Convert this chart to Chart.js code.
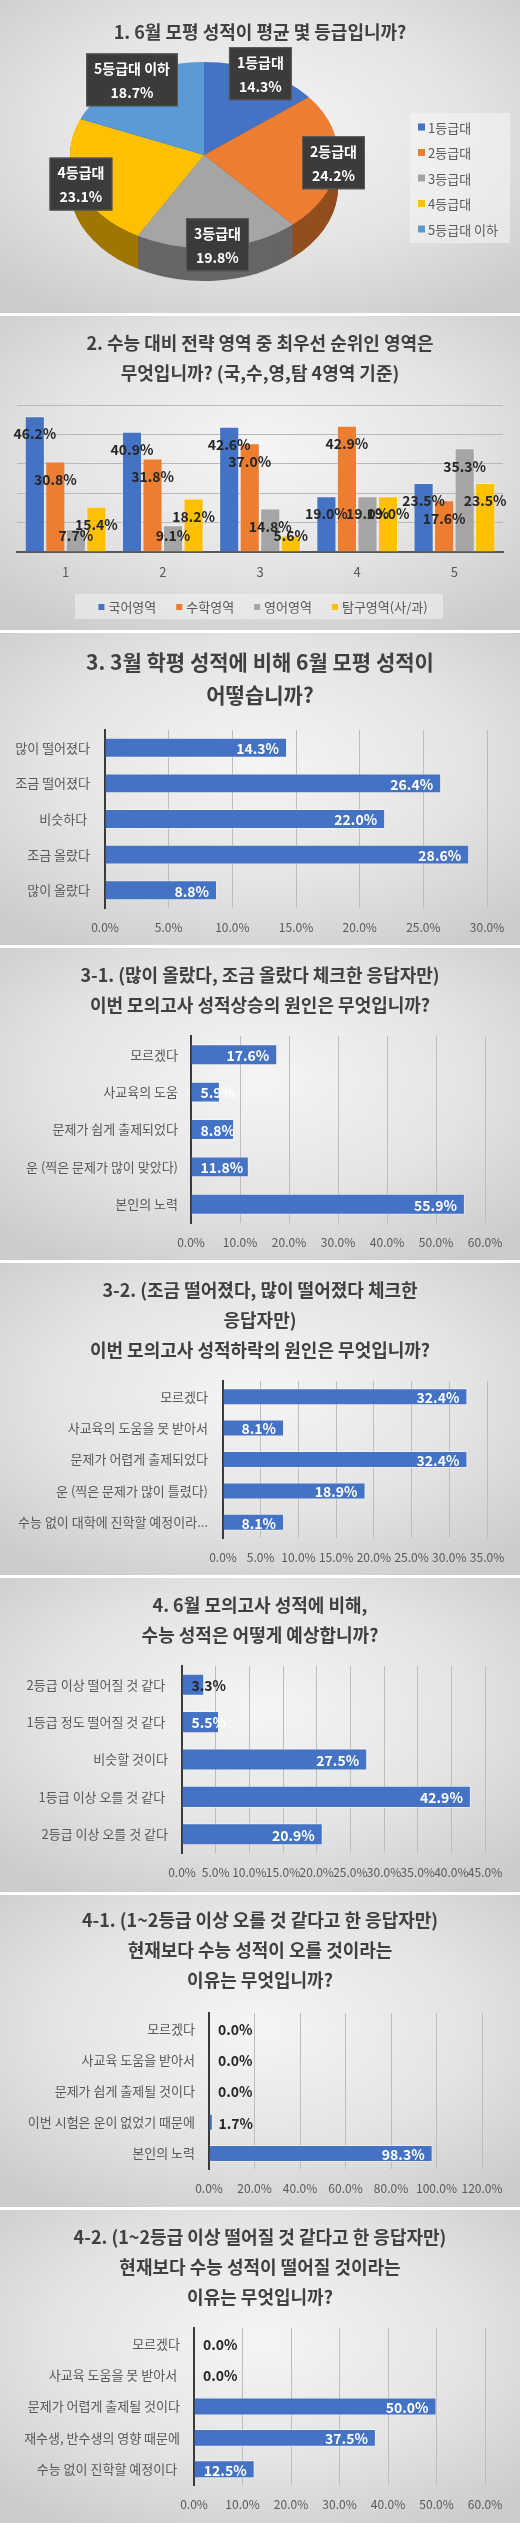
<!DOCTYPE html>
<html><head><meta charset="utf-8">
<script src="https://cdn.jsdelivr.net/npm/chart.js@4.4.1/dist/chart.umd.min.js"></script>
<style>
html,body{margin:0;padding:0;background:#ffffff;}
body{width:520px;height:2523px;position:relative;overflow:hidden;}
.panel{position:absolute;left:0;width:520px;background:radial-gradient(ellipse 72% 70% at 50% 42%, #f5f5f5 0%, #e4e4e4 55%, #cbcbcb 100%);}
.panel canvas{display:block;position:absolute;left:0;top:0;}
</style></head><body>
<script>
// ---------- DATA ----------
const gradeLabels = ['1등급대','2등급대','3등급대','4등급대','5등급대 이하'];
const gradeValues = [14.3, 24.2, 19.8, 23.1, 18.7];

const areaCategories = ['1','2','3','4','5'];
const areaSeriesNames = ['국어영역','수학영역','영어영역','탐구영역(사/과)'];
const koreanValues  = [46.2, 40.9, 42.6, 19.0, 23.5];
const mathValues    = [30.8, 31.8, 37.0, 42.9, 17.6];
const englishValues = [7.7, 9.1, 14.8, 19.0, 35.3];
const inquiryValues = [15.4, 18.2, 5.6, 19.0, 23.5];

const changeLabels = ['많이 떨어졌다','조금 떨어졌다','비슷하다 ','조금 올랐다','많이 올랐다'];
const changeValues = [14.3, 26.4, 22.0, 28.6, 8.8];

const riseCauseLabels = ['모르겠다','사교육의 도움','문제가 쉽게 출제되었다','운 (찍은 문제가 많이 맞았다)','본인의 노력'];
const riseCauseValues = [17.6, 5.9, 8.8, 11.8, 55.9];

const dropCauseLabels = ['모르겠다','사교육의 도움을 못 받아서','문제가 어렵게 출제되었다','운 (찍은 문제가 많이 틀렸다)','수능 없이 대학에 진학할 예정이라...'];
const dropCauseValues = [32.4, 8.1, 32.4, 18.9, 8.1];

const forecastLabels = ['2등급 이상 떨어질 것 같다 ','1등급 정도 떨어질 것 같다 ','비슷할 것이다','1등급 이상 오를 것 같다 ','2등급 이상 오를 것 같다'];
const forecastValues = [3.3, 5.5, 27.5, 42.9, 20.9];

const upReasonLabels = ['모르겠다','사교육 도움을 받아서','문제가 쉽게 출제될 것이다','이번 시험은 운이 없었기 때문에','본인의 노력'];
const upReasonValues = [0.0, 0.0, 0.0, 1.7, 98.3];

const downReasonLabels = ['모르겠다','사교육 도움을 못 받아서 ','문제가 어렵게 출제될 것이다','재수생, 반수생의 영향 때문에','수능 없이 진학할 예정이다 '];
const downReasonValues = [0.0, 0.0, 50.0, 37.5, 12.5];

// axis ranges (max, step) for the percent axes
const axisMaxes = [50, 30, 60, 35, 45, 120, 60];
const axisSteps = [10, 5, 10, 5, 5, 20, 10];

const title1 = ['1. 6월 모평 성적이 평균 몇 등급입니까?'];
const title2 = ['2. 수능 대비 전략 영역 중 최우선 순위인 영역은','무엇입니까? (국,수,영,탐 4영역 기준)'];
const title3 = ['3. 3월 학평 성적에 비해 6월 모평 성적이','어떻습니까?'];
const title4 = ['3-1. (많이 올랐다, 조금 올랐다 체크한 응답자만)','이번 모의고사 성적상승의 원인은 무엇입니까?'];
const title5 = ['3-2. (조금 떨어졌다, 많이 떨어졌다 체크한','응답자만)','이번 모의고사 성적하락의 원인은 무엇입니까?'];
const title6 = ['4. 6월 모의고사 성적에 비해,','수능 성적은 어떻게 예상합니까?'];
const title7 = ['4-1. (1~2등급 이상 오를 것 같다고 한 응답자만)','현재보다 수능 성적이 오를 것이라는','이유는 무엇입니까?'];
const title8 = ['4-2. (1~2등급 이상 떨어질 것 같다고 한 응답자만)','현재보다 수능 성적이 떨어질 것이라는','이유는 무엇입니까?'];

// ---------- STYLE ----------
const FONT = "'Noto Sans CJK KR', 'Noto Sans', sans-serif";
const PIE_COLORS = ['#4472C4','#ED7D31','#A5A5A5','#FFC000','#5B9BD5'];
const SERIES_COLORS = ['#4472C4','#ED7D31','#A5A5A5','#FFC000'];
const BAR_BLUE = '#4472C4';
const TITLE_COLOR = '#404040';
const TEXT_GRAY = '#595959';

Chart.defaults.font.family = FONT;
Chart.defaults.color = TEXT_GRAY;
Chart.defaults.animation = false;

function darken(hex, f) {
  const n = parseInt(hex.slice(1), 16);
  const r = Math.round(((n >> 16) & 255) * f), g = Math.round(((n >> 8) & 255) * f), b = Math.round((n & 255) * f);
  return 'rgb(' + r + ',' + g + ',' + b + ')';
}

function makePanel(top, h) {
  const d = document.createElement('div');
  d.className = 'panel';
  d.style.top = top + 'px';
  d.style.height = h + 'px';
  const c = document.createElement('canvas');
  c.width = 520; c.height = h;
  c.style.width = '520px'; c.style.height = h + 'px';
  d.appendChild(c);
  document.body.appendChild(d);
  return c;
}

function titleOpts(lines, size, lh, firstCenter, chartTop) {
  const lhPx = size * lh;
  const pt = firstCenter - lhPx / 2;
  const pb = chartTop - pt - lines.length * lhPx;
  return {
    display: true, text: lines, color: TITLE_COLOR,
    font: {size: size, weight: 'bold', family: FONT, lineHeight: lh},
    padding: {top: pt, bottom: Math.max(0, pb)}
  };
}

// ---------- PANEL 1 : 3D-looking pie ----------
(function () {
  const H = 313;
  const canvas = makePanel(0, H);
  const G = {cx: 204, cy: 155, rx: 134, ry: 93, depth: 33};
  const sideColors = PIE_COLORS.map(c => darken(c, 0.62));

  function applyTransform(ctx, el, dy) {
    ctx.translate(G.cx, G.cy + dy);
    ctx.scale(G.rx / el.outerRadius, G.ry / el.outerRadius);
    ctx.translate(-el.x, -el.y);
  }

  const pie3d = {
    id: 'pie3d',
    beforeDatasetsDraw(chart) {
      const ctx = chart.ctx;
      const meta = chart.getDatasetMeta(0);
      const e0 = meta.data[0];
      for (let d = G.depth; d >= 1; d--) {
        ctx.save();
        applyTransform(ctx, e0, d);
        meta.data.forEach((el, i) => {
          ctx.beginPath();
          ctx.moveTo(el.x, el.y);
          ctx.arc(el.x, el.y, el.outerRadius, el.startAngle, el.endAngle);
          ctx.closePath();
          ctx.fillStyle = sideColors[i];
          ctx.fill();
        });
        ctx.restore();
      }
      ctx.save();
      applyTransform(ctx, e0, 0);
    },
    afterDatasetsDraw(chart) {
      chart.ctx.restore();
    },
    afterDraw(chart) {
      const ctx = chart.ctx;
      const meta = chart.getDatasetMeta(0);
      const vals = chart.data.datasets[0].data;
      ctx.save();
      ctx.font = 'bold 14px ' + FONT;
      ctx.textAlign = 'center';
      ctx.textBaseline = 'middle';
      meta.data.forEach((el, i) => {
        const mid = (el.startAngle + el.endAngle) / 2;
        const px = G.cx + G.rx * 0.97 * Math.cos(mid);
        const py = G.cy + G.ry * 0.97 * Math.sin(mid);
        const l1 = chart.data.labels[i];
        const l2 = vals[i].toFixed(1) + '%';
        const w = Math.max(ctx.measureText(l1).width, ctx.measureText(l2).width) + 16;
        const h = 53;
        ctx.fillStyle = '#3b3b3b';
        ctx.fillRect(px - w / 2, py - h / 2, w, h);
        ctx.strokeStyle = '#5a5a5a';
        ctx.lineWidth = 1;
        ctx.strokeRect(px - w / 2 + 0.5, py - h / 2 + 0.5, w - 1, h - 1);
        ctx.fillStyle = '#ffffff';
        ctx.fillText(l1, px, py - 11);
        ctx.fillText(l2, px, py + 13);
      });
      // legend
      ctx.fillStyle = 'rgba(245,245,245,0.55)';
      ctx.fillRect(410, 113, 100, 130);
      ctx.font = '13px ' + FONT;
      ctx.textAlign = 'left';
      chart.data.labels.forEach((lab, i) => {
        const y = 127 + i * 25.5;
        ctx.fillStyle = PIE_COLORS[i];
        ctx.fillRect(418, y - 3.5, 7, 7);
        ctx.fillStyle = TEXT_GRAY;
        ctx.fillText(lab, 428, y + 1);
      });
      ctx.restore();
    }
  };

  new Chart(canvas, {
    type: 'pie',
    data: {labels: gradeLabels, datasets: [{data: gradeValues, backgroundColor: PIE_COLORS, borderWidth: 0}]},
    options: {
      responsive: false, devicePixelRatio: 1, animation: false,
      layout: {padding: 0},
      plugins: {
        legend: {display: false}, tooltip: {enabled: false},
        title: titleOpts(title1, 18, 1.667, 32, 60)
      }
    },
    plugins: [pie3d]
  });
})();

// ---------- PANEL 2 : grouped columns ----------
(function () {
  const H = 314, L = 17, R = 503, T = 89, B = 236;
  const canvas = makePanel(316, H);
  const seriesValues = [koreanValues, mathValues, englishValues, inquiryValues];

  const colLabels = {
    id: 'colLabels',
    afterDatasetsDraw(chart) {
      const ctx = chart.ctx;
      ctx.save();
      ctx.font = 'bold 14px ' + FONT;
      ctx.textAlign = 'center';
      ctx.textBaseline = 'middle';
      ctx.fillStyle = '#262626';
      chart.data.datasets.forEach((ds, di) => {
        chart.getDatasetMeta(di).data.forEach((el, i) => {
          const h = el.base - el.y;
          const off = Math.min(18, Math.max(0, h - 16));
          ctx.fillText(ds.data[i].toFixed(1) + '%', el.x, el.y + off);
        });
      });
      ctx.restore();
    },
    afterDraw(chart) {
      const ctx = chart.ctx;
      ctx.save();
      ctx.fillStyle = 'rgba(245,245,245,0.5)';
      ctx.fillRect(75, 278, 368, 25);
      ctx.font = '13px ' + FONT;
      ctx.textBaseline = 'middle';
      ctx.textAlign = 'left';
      const names = chart.data.datasets.map(d => d.label);
      const widths = names.map(n => ctx.measureText(n).width);
      let total = 0;
      widths.forEach((w, i) => { total += 10 + w + (i < widths.length - 1 ? 20 : 0); });
      let x = 263 - total / 2;
      names.forEach((n, i) => {
        ctx.fillStyle = chart.data.datasets[i].backgroundColor;
        ctx.fillRect(x, 288, 6, 6);
        ctx.fillStyle = TEXT_GRAY;
        ctx.fillText(n, x + 10, 291.5);
        x += 10 + widths[i] + 20;
      });
      ctx.restore();
    }
  };

  new Chart(canvas, {
    type: 'bar',
    data: {
      labels: areaCategories,
      datasets: areaSeriesNames.map((n, i) => ({
        label: n, data: seriesValues[i], backgroundColor: SERIES_COLORS[i],
        borderColor: 'rgba(255,255,255,0.35)', borderWidth: 1,
        categoryPercentage: 0.845, barPercentage: 0.98
      }))
    },
    options: {
      responsive: false, devicePixelRatio: 1, animation: false,
      layout: {padding: {left: L, right: 520 - R, top: 0, bottom: 0}},
      plugins: {legend: {display: false}, tooltip: {enabled: false},
        title: titleOpts(title2, 18, 1.667, 27, T)},
      scales: {
        x: {
          grid: {display: false, drawTicks: false},
          border: {display: true, color: '#595959', width: 2},
          ticks: {color: TEXT_GRAY, font: {size: 13}, padding: 12},
          afterFit(s) { s.height = H - B; }
        },
        y: {
          min: 0, max: axisMaxes[0],
          ticks: {display: false, stepSize: axisSteps[0]},
          grid: {color: '#b8b8b8', drawTicks: false},
          border: {display: false},
          afterFit(s) { s.width = 0; }
        }
      }
    },
    plugins: [colLabels]
  });
})();

// ---------- PANELS 3-8 : horizontal bars ----------
const hbarLabels = {
  id: 'hbarLabels',
  afterDatasetsDraw(chart) {
    const ctx = chart.ctx;
    const meta = chart.getDatasetMeta(0);
    const vals = chart.data.datasets[0].data;
    ctx.save();
    ctx.font = 'bold 14px ' + FONT;
    ctx.textBaseline = 'middle';
    ctx.textAlign = 'left';
    meta.data.forEach((el, i) => {
      const txt = vals[i].toFixed(1) + '%';
      const w = ctx.measureText(txt).width;
      const left = Math.max(el.x - 8 - w, el.base + 9);
      ctx.fillStyle = (left + w / 2 < el.x) ? '#ffffff' : '#262626';
      ctx.fillText(txt, left, el.y + 1);
    });
    ctx.restore();
  }
};

function makeHBar(p) {
  const canvas = makePanel(p.top, p.H);
  const side = 520 - p.R;
  new Chart(canvas, {
    type: 'bar',
    data: {labels: p.labels, datasets: [{data: p.values, backgroundColor: BAR_BLUE,
      borderColor: 'rgba(255,255,255,0.4)', borderWidth: 1,
      categoryPercentage: 1, barPercentage: p.bar}]},
    options: {
      indexAxis: 'y',
      responsive: false, devicePixelRatio: 1, animation: false,
      layout: {padding: 0},
      plugins: {legend: {display: false}, tooltip: {enabled: false},
        title: titleOpts(p.title, p.tSize, p.tLh, p.tFirst, p.T)},
      scales: {
        x: {
          min: 0, max: p.max,
          ticks: {stepSize: p.step, autoSkip: false, maxRotation: 0, minRotation: 0,
            color: TEXT_GRAY, font: {size: 12}, padding: 12,
            callback: v => Number(v).toFixed(1) + '%'},
          grid: {color: '#bdbdbd', drawTicks: false},
          border: {display: false},
          afterFit(s) { s.height = p.H - p.B; }
        },
        y: {
          grid: {display: false, drawTicks: false},
          border: {display: true, color: '#3a3a3a', width: 2},
          ticks: {color: TEXT_GRAY, font: {size: 13}, padding: p.pad, autoSkip: false},
          afterFit(s) { s.width = p.L; }
        },
        yRightSpace: {
          type: 'category', position: 'right', display: true,
          grid: {display: false, drawTicks: false},
          border: {display: false},
          ticks: {display: false},
          afterFit(s) { s.width = side; }
        }
      }
    },
    plugins: [hbarLabels]
  });
}

makeHBar({top: 633, H: 312, L: 105, R: 487, T: 97, B: 275, pad: 15, bar: 0.56,
  labels: changeLabels, values: changeValues, max: axisMaxes[1], step: axisSteps[1],
  title: title3, tSize: 21, tLh: 1.57, tFirst: 29});
makeHBar({top: 948, H: 312, L: 191, R: 485, T: 88, B: 275, pad: 13, bar: 0.56,
  labels: riseCauseLabels, values: riseCauseValues, max: axisMaxes[2], step: axisSteps[2],
  title: title4, tSize: 18, tLh: 1.667, tFirst: 27});
makeHBar({top: 1263, H: 312, L: 223, R: 487, T: 118, B: 275, pad: 15, bar: 0.54,
  labels: dropCauseLabels, values: dropCauseValues, max: axisMaxes[3], step: axisSteps[3],
  title: title5, tSize: 18, tLh: 1.667, tFirst: 27});
makeHBar({top: 1578, H: 314, L: 182, R: 485, T: 88, B: 275, pad: 14, bar: 0.59,
  labels: forecastLabels, values: forecastValues, max: axisMaxes[4], step: axisSteps[4],
  title: title6, tSize: 18, tLh: 1.667, tFirst: 27});
makeHBar({top: 1895, H: 312, L: 209, R: 482, T: 118, B: 274, pad: 14, bar: 0.545,
  labels: upReasonLabels, values: upReasonValues, max: axisMaxes[5], step: axisSteps[5],
  title: title7, tSize: 18, tLh: 1.667, tFirst: 25});
makeHBar({top: 2210, H: 313, L: 194, R: 485, T: 118, B: 275, pad: 14, bar: 0.57,
  labels: downReasonLabels, values: downReasonValues, max: axisMaxes[6], step: axisSteps[6],
  title: title8, tSize: 18, tLh: 1.667, tFirst: 27});
</script>
</body></html>
